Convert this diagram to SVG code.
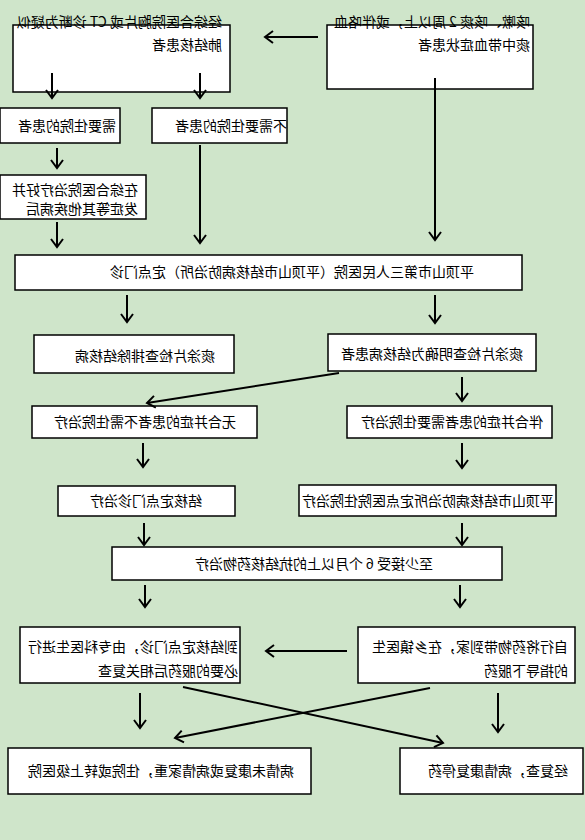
<svg xmlns="http://www.w3.org/2000/svg" width="585" height="840" viewBox="0 0 585 840">
<defs>
<marker id="ah" markerUnits="userSpaceOnUse" viewBox="-10 -8 12 16" markerWidth="12" markerHeight="16" refX="0" refY="0" orient="auto">
<path d="M-8,-6 L0,0 L-8,6" fill="none" stroke="#000" stroke-width="2"/>
</marker>
</defs>
<style>
.box{fill:#fff;stroke:#000;stroke-width:1.5}
.t{font-family:"Noto Sans CJK SC","Noto Sans",sans-serif;font-size:14px;fill:#000}
.c{fill:none;stroke:#000;stroke-width:2;marker-end:url(#ah)}
</style>
<rect width="585" height="840" fill="#cfe5ca"/>
<g transform="matrix(-1 0 0 1 585 0)">
<g id="nA"><rect class="box" x="355" y="25" width="217" height="67"/><text class="t" x="363" y="27">经综合医院胸片或 CT 诊断为疑似</text><text class="t" x="363" y="50">肺结核患者</text></g>
<g id="nB"><rect class="box" x="52" y="25" width="206" height="64"/><text class="t" x="55" y="27">咳嗽、咳痰 2 周以上，或伴咯血</text><text class="t" x="55" y="50">痰中带血症状患者</text></g>
<g id="nC"><rect class="box" x="465" y="108" width="120" height="35"/><text class="t" x="469" y="131">需要住院的患者</text></g>
<g id="nD"><rect class="box" x="298" y="108" width="135" height="35"/><text class="t" x="298" y="131">不需要住院的患者</text></g>
<g id="nE"><rect class="box" x="439" y="175" width="146" height="44"/><text class="t" x="447" y="195">在综合医院治疗好并</text><text class="t" x="447" y="214">发症等其他疾病后</text></g>
<g id="nF"><rect class="box" x="63" y="255" width="507" height="35"/><text class="t" x="111" y="277">平顶山市第三人民医院（平顶山市结核病防治所）定点门诊</text></g>
<g id="nG"><rect class="box" x="351" y="335" width="200" height="38"/><text class="t" x="370" y="361">痰涂片检查排除结核病</text></g>
<g id="nH"><rect class="box" x="49" y="334" width="208" height="37"/><text class="t" x="62" y="359">痰涂片检查明确为结核病患者</text></g>
<g id="nI"><rect class="box" x="328" y="406" width="225" height="32"/><text class="t" x="349" y="427">无合并症的患者不需住院治疗</text></g>
<g id="nJ"><rect class="box" x="33" y="406" width="205" height="32"/><text class="t" x="42" y="427">伴合并症的患者需要住院治疗</text></g>
<g id="nK"><rect class="box" x="350" y="486" width="177" height="30"/><text class="t" x="383" y="506">结核定点门诊治疗</text></g>
<g id="nL"><rect class="box" x="29" y="485" width="257" height="31"/><text class="t" x="31" y="506">平顶山市结核病防治所定点医院住院治疗</text></g>
<g id="nM"><rect class="box" x="83" y="547" width="390" height="33"/><text class="t" x="152" y="569">至少接受 6 个月以上的抗结核药物治疗</text></g>
<g id="nN"><rect class="box" x="345" y="627" width="220" height="56"/><text class="t" x="347" y="652">到结核定点门诊，由专科医生进行</text><text class="t" x="347" y="676">必要的服药后相关复查</text></g>
<g id="nO"><rect class="box" x="10" y="627" width="217" height="56"/><text class="t" x="17" y="652">自行将药物带到家，在乡镇医生</text><text class="t" x="17" y="676">的指导下服药</text></g>
<g id="nP"><rect class="box" x="274" y="748" width="303" height="46"/><text class="t" x="291" y="776">病情未康复或病情家重，住院或转上级医院</text></g>
<g id="nQ"><rect class="box" x="2" y="748" width="183" height="46"/><text class="t" x="17" y="776">经复查，病情康复停药</text></g>
<g id="connectors">
<line class="c" x1="267" y1="37" x2="320" y2="37"/>
<line class="c" x1="533" y1="73" x2="533" y2="98"/>
<line class="c" x1="385" y1="73" x2="385" y2="98"/>
<line class="c" x1="528" y1="148" x2="528" y2="168"/>
<line class="c" x1="528" y1="222" x2="528" y2="247"/>
<line class="c" x1="385" y1="145" x2="385" y2="243"/>
<line class="c" x1="150" y1="78" x2="150" y2="240"/>
<line class="c" x1="458" y1="295" x2="458" y2="322"/>
<line class="c" x1="150" y1="295" x2="150" y2="323"/>
<line class="c" x1="246" y1="373" x2="438" y2="403"/>
<line class="c" x1="123" y1="377" x2="123" y2="401"/>
<line class="c" x1="442" y1="443" x2="442" y2="467"/>
<line class="c" x1="123" y1="443" x2="123" y2="468"/>
<line class="c" x1="441" y1="523" x2="441" y2="545"/>
<line class="c" x1="123" y1="523" x2="123" y2="545"/>
<line class="c" x1="440" y1="585" x2="440" y2="607"/>
<line class="c" x1="125" y1="585" x2="125" y2="607"/>
<line class="c" x1="238" y1="651" x2="319" y2="651"/>
<line class="c" x1="445" y1="693" x2="445" y2="728"/>
<line class="c" x1="87" y1="693" x2="87" y2="732"/>
<line class="c" x1="402" y1="687" x2="142" y2="743"/>
<line class="c" x1="155" y1="688" x2="410" y2="738"/>
</g>
</g>
</svg>
